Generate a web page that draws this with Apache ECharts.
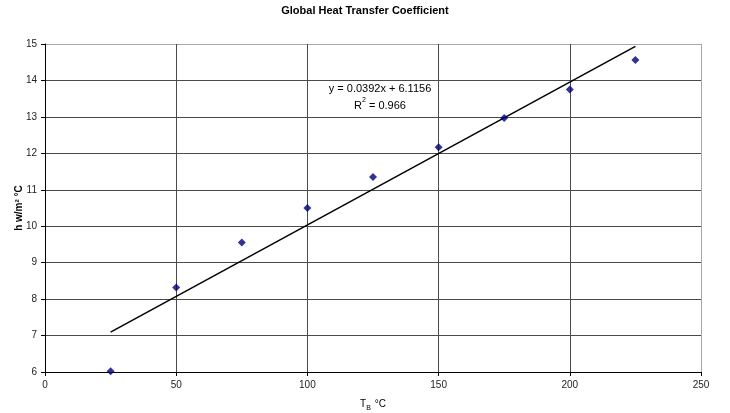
<!DOCTYPE html>
<html>
<head>
<meta charset="utf-8">
<script src="https://cdn.jsdelivr.net/npm/echarts@6/dist/echarts.min.js"></script>
<style>html,body{margin:0;padding:0;background:#fff}#c{width:730px;height:413px}</style>
</head>
<body>
<div id="c"></div>
<script>
var temps = [25, 50, 75, 100, 125, 150, 175, 200, 225];
var hValues = [6.02, 8.32, 9.55, 10.5, 11.35, 12.17, 12.97, 13.75, 14.56];
var trendX = [25, 225];
var trendY = [7.0956, 14.9356];
var equationText = 'y = 0.0392x + 6.1156';
var r2Text = '0.966';

var chart = echarts.init(document.getElementById('c'), null, {renderer: 'canvas'});
var F = '"Liberation Sans", Arial, sans-serif';
var pts = temps.map(function (t, i) { return [t, hValues[i]]; });
var trend = trendX.map(function (t, i) { return [t, trendY[i]]; });

var ySplit = []; for (var i = 0; i < 10; i++) ySplit.push(i === 9 ? '#a8a8a8' : '#4a4a4a');
var xSplit = []; for (var j = 0; j < 6; j++) xSplit.push(j === 5 ? '#a8a8a8' : '#4a4a4a');

chart.setOption({
  animation: false,
  backgroundColor: '#fff',
  title: {
    text: 'Global Heat Transfer Coefficient',
    left: 'center', top: 0,
    textStyle: {fontFamily: F, fontSize: 11, fontWeight: 'bold', color: '#000'}
  },
  grid: {left: 45, right: 29, top: 44, bottom: 41, containLabel: false, outerBoundsMode: 'none'},
  xAxis: {
    type: 'value', min: 0, max: 250, interval: 50,
    name: '{t|T}{s|B}{t| °C}', nameLocation: 'middle', nameGap: 27, nameMoveOverlap: false,
    nameTextStyle: {rich: {
      t: {fontFamily: F, fontSize: 10, color: '#000'},
      s: {fontFamily: F, fontSize: 7, color: '#000', verticalAlign: 'bottom', padding: [0, 1, -3, 0]}
    }},
    axisLine: {lineStyle: {color: '#000', width: 1}},
    axisTick: {show: true, length: 4, lineStyle: {color: '#000'}},
    axisLabel: {fontFamily: F, fontSize: 10, color: '#222', margin: 8},
    splitLine: {show: true, lineStyle: {color: xSplit, width: 1}}
  },
  yAxis: {
    type: 'value', min: 6, max: 15, interval: 1,
    name: 'h w/m² °C', nameLocation: 'middle', nameGap: 21, nameMoveOverlap: false,
    nameTextStyle: {fontFamily: F, fontSize: 10, fontWeight: 'bold', color: '#000'},
    axisLine: {show: true, lineStyle: {color: '#000', width: 1}},
    axisTick: {show: true, length: 4, lineStyle: {color: '#000'}},
    axisLabel: {fontFamily: F, fontSize: 10, color: '#222', margin: 8},
    splitLine: {show: true, lineStyle: {color: ySplit, width: 1}}
  },
  series: [
    {
      type: 'line', data: trend, symbol: 'none',
      lineStyle: {color: '#000', width: 1.5}, z: 2, silent: true
    },
    {
      type: 'scatter', data: pts, symbol: 'diamond', symbolSize: 8,
      itemStyle: {color: '#00007a'}, z: 3
    }
  ],
  graphic: [
    {type: 'text', x: 380, y: 89, z: 10,
     style: {text: equationText, font: '11px ' + F, fill: '#000', align: 'center', verticalAlign: 'middle'}},
    {type: 'text', x: 380, y: 106, z: 10,
     style: {text: '{a|R}{s|2}{a| = ' + r2Text + '}', font: '11px ' + F, fill: '#000',
       align: 'center', verticalAlign: 'middle',
       rich: {a: {fontFamily: F, fontSize: 11, color: '#000'},
              s: {fontFamily: F, fontSize: 7, color: '#000', verticalAlign: 'top', padding: [-4, 0, 0, 0]}}}}
  ]
});
</script>
</body>
</html>
